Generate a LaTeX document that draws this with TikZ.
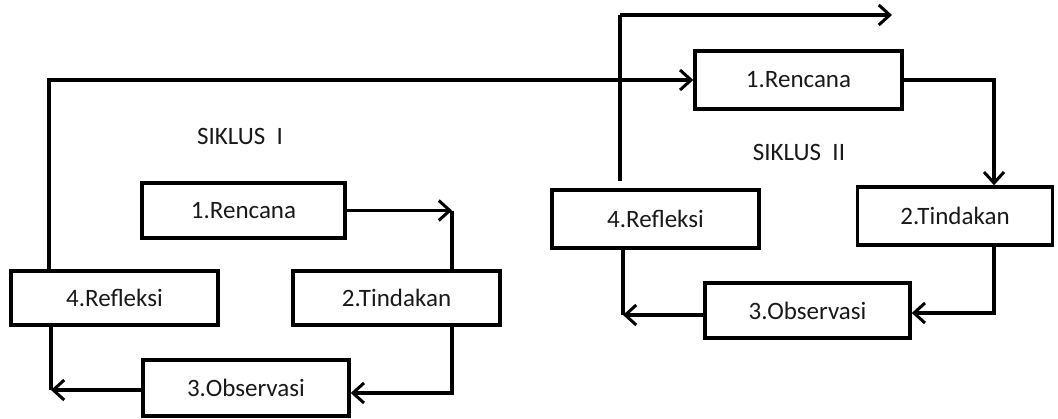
\documentclass[tikz,border=0pt]{standalone}
\usepackage{fontspec}
\setmainfont{Carlito}
\usetikzlibrary{arrows.meta}
\begin{document}
\begin{tikzpicture}[x=1pt,y=-1pt,
  box/.style={draw=black,line width=3.5pt,rectangle,inner sep=0pt,
    font=\fontsize{25}{30}\selectfont,text=black!90},
  lbl/.style={font=\fontsize{25}{30}\selectfont,text=black!90},
  conn/.style={draw=black,line width=3.5pt},
  arr/.style={conn,-{Straight Barb[length=11pt,width=20pt,line width=3pt]}}]
\useasboundingbox (0,0) rectangle (1058,418);
% Siklus I
\node[box,minimum width=203pt,minimum height=55pt] (R1) at (243.5,210.5) {1.Rencana};
\node[box,minimum width=207pt,minimum height=54pt] (T1) at (396.5,298) {2.Tindakan};
\node[box,minimum width=207pt,minimum height=54pt] (F1) at (114.5,298) {4.Refleksi};
\node[box,minimum width=206pt,minimum height=56pt] (O1) at (246,388) {3.Observasi};
\node[lbl] (S1) at (240,136) {SIKLUS\ \ I};
% Siklus II
\node[box,minimum width=207pt,minimum height=58pt] (R2) at (798.5,80) {1.Rencana};
\node[box,minimum width=195pt,minimum height=58pt] (T2) at (955,216) {2.Tindakan};
\node[box,minimum width=207pt,minimum height=58pt] (F2) at (655.5,219) {4.Refleksi};
\node[box,minimum width=205pt,minimum height=55pt] (O2) at (807.5,310.5) {3.Observasi};
\node[lbl] (S2) at (799,152) {SIKLUS\ \ II};
% helper coordinates
\coordinate (c1) at (452,0);
\coordinate (c2) at (51,0);
\coordinate (c3) at (49,0);
\coordinate (c4) at (620,15);
\coordinate (out) at (892,15);
\coordinate (c5) at (994,0);
\coordinate (c6) at (623,0);
% connectors Siklus I
\draw[arr] (R1.east) -- (R1.east -| c1);
\draw[conn] (R1.east -| c1) -- (T1.north -| c1);
\draw[arr] (T1.south -| c1) |- ([yshift=-5pt]O1.east);
\draw[conn] (F1.south -| c2) -- ([yshift=-2pt]O1.west -| c2);
\draw[arr] ([yshift=-2pt]O1.west) -- ([yshift=-2pt]O1.west -| c2);
% link to Siklus II
\draw[arr] (F1.north -| c3) |- (R2.west);
% connectors Siklus II
\draw[conn] ([yshift=7pt]F2.north -| c4) -- (c4);
\draw[arr] (c4) -- (out);
\draw[arr] (R2.east) -| (T2.north -| c5);
\draw[arr] (T2.south -| c5) |- ([yshift=-2.5pt]O2.east);
\draw[conn] (F2.south -| c6) -- ([yshift=-4.5pt]O2.west -| c6);
\draw[arr] ([yshift=-4.5pt]O2.west) -- ([yshift=-4.5pt]O2.west -| c6);
\end{tikzpicture}
\end{document}
